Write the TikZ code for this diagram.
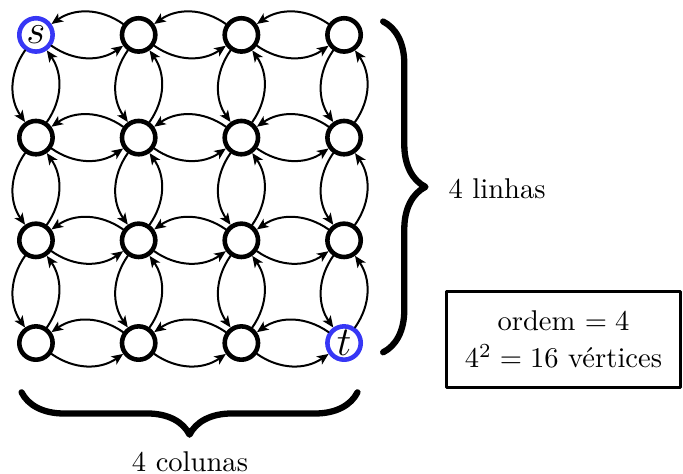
\documentclass[tikz,border=0pt]{standalone}
\usepackage{amsmath,amssymb}
\usetikzlibrary{arrows.meta,decorations.pathreplacing}
\definecolor{azul}{RGB}{55,55,245}

\begin{document}
\begin{tikzpicture}[scale=1.263,>={Stealth[length=4pt,width=3.4pt,inset=1pt]}, line join=round, line cap=round,
	vert/.style={circle,draw,line width=1.6pt,minimum size=0.41cm,inner sep=0pt},
	arco/.style={->,line width=0.7pt,bend right=35},
	chave/.style={decorate,decoration={brace,amplitude=0.52cm},line width=2.2pt}]
	\useasboundingbox (-0.35,-1.266) rectangle (6.30,3.34);
	\def\n{3}
	% s e t
	\tikzset{v-0-3/.style={draw=azul,label={[font=\Large]center:$s$}},
		v-3-0/.style={draw=azul,label={[font=\Large]center:$t$}}}
	\foreach \i in {0,...,\n} \foreach \j in {0,...,\n}
		\node[vert,v-\i-\j/.try] (v-\i-\j) at (\i,\j) {};
	% arcos nos dois sentidos
	\foreach \i in {0,...,\n} \foreach \j in {0,...,2}{
		\pgfmathtruncatemacro{\k}{\j+1}
		\draw[arco] (v-\i-\j) to (v-\i-\k);
		\draw[arco] (v-\i-\k) to (v-\i-\j);
		\draw[arco] (v-\j-\i) to (v-\k-\i);
		\draw[arco] (v-\k-\i) to (v-\j-\i);
	}
	% chaves
	\coordinate (lin-a) at (3.38,3.13);
	\coordinate (lin-b) at (3.38,-0.09);
	\coordinate (col-a) at (3.13,-0.48);
	\coordinate (col-b) at (-0.14,-0.48);
	\draw[chave] (lin-a)--(lin-b);
	\draw[chave] (col-a)--(col-b);
	\node[anchor=west] (linhas) at (3.92,1.50) {4 linhas};
	\node (colunas) at (1.5,-1.16) {4 colunas};
	\node[draw,line width=1pt,minimum width=2.88cm,minimum height=1.18cm,align=center] (caixa) at (5.136,0.034)
		{ordem $= 4$\\[1pt] $4^2 = 16$ vértices};
\end{tikzpicture}
\end{document}
